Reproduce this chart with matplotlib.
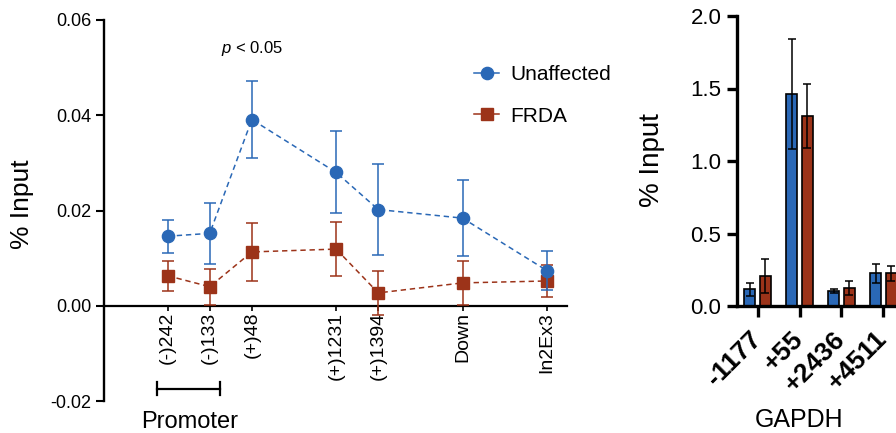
import matplotlib
matplotlib.use("Agg")
import matplotlib.pyplot as plt
from matplotlib.lines import Line2D
import numpy as np

plt.rcParams['font.family'] = ['Liberation Sans', 'DejaVu Sans']
plt.rcParams['axes.unicode_minus'] = False
plt.rcParams['mathtext.fontset'] = 'custom'
plt.rcParams['mathtext.it'] = 'Liberation Sans:italic'
plt.rcParams['mathtext.rm'] = 'Liberation Sans'

# ---------------- data: left panel (FXN region) ----------------
sites = ['(-)242', '(-)133', '(+)48', '(+)1231', '(+)1394', 'Down', 'In2Ex3']
site_pos = [1, 2, 3, 5, 6, 8, 10]
unaff = [0.0146, 0.0152, 0.0391, 0.0280, 0.0202, 0.0184, 0.0074]
unaff_err = [0.0035, 0.0064, 0.0080, 0.0086, 0.0096, 0.0079, 0.0040]
frda = [0.0063, 0.0040, 0.0113, 0.0119, 0.0027, 0.0048, 0.0052]
frda_err = [0.0032, 0.0038, 0.0060, 0.0057, 0.0047, 0.0047, 0.0033]
left_yticks = [-0.02, 0.00, 0.02, 0.04, 0.06]
left_yticklabels = ['-0.02', '0.00', '0.02', '0.04', '0.06']

# ---------------- data: right panel (GAPDH) ----------------
gapdh_sites = ['-1177', '+55', '+2436', '+4511']
gapdh_unaff = [0.115, 1.46, 0.103, 0.225]
gapdh_unaff_err = [0.046, 0.378, 0.016, 0.065]
gapdh_frda = [0.207, 1.312, 0.122, 0.225]
gapdh_frda_err = [0.120, 0.219, 0.048, 0.053]
right_yticks = [0.0, 0.5, 1.0, 1.5, 2.0]

BLUE = '#2a68b6'
RED = '#9c3319'

W, H = 896, 433
fig = plt.figure(figsize=(W / 100, H / 100), dpi=100)

# ---------------- left panel ----------------
ax1 = fig.add_axes([104 / W, 1 - 401 / H, 463 / W, 381 / H])
ax1.set_xlim(-0.51, 10.48)
ax1.set_ylim(-0.02, 0.06)
for s in ['top', 'right']:
    ax1.spines[s].set_visible(False)
ax1.spines['left'].set_linewidth(1.7)
ax1.spines['bottom'].set_position(('data', 0))
ax1.spines['bottom'].set_linewidth(1.6)

dash = (0, (3.5, 2.5))
ax1.errorbar(site_pos, unaff, yerr=unaff_err, color=BLUE, marker='o', ms=8.8,
             linestyle=dash, lw=1.1, elinewidth=1.1, capsize=4.5, capthick=1.1, zorder=4)
ax1.errorbar(site_pos, frda, yerr=frda_err, color=RED, marker='s', ms=8.8,
             linestyle=dash, lw=1.1, elinewidth=1.1, capsize=4.5, capthick=1.1, zorder=3)

ax1.set_yticks(left_yticks)
ax1.set_yticklabels(left_yticklabels, fontsize=13)
ax1.tick_params(axis='y', direction='out', length=6, width=1.5, pad=3)
ax1.set_xticks(site_pos)
ax1.set_xticklabels(sites, rotation=90, fontsize=14)
ax1.tick_params(axis='x', direction='out', length=3.5, width=1.2, pad=1)

fig.text(22 / W, 1 - 204 / H, '% Input', rotation=90, ha='center', va='center', fontsize=19)

ax1.text(3, 0.054, r'$p$ < 0.05', ha='center', va='center', fontsize=12)

# Promoter bracket
ax1.plot([0.75, 2.25], [-0.0174, -0.0174], color='black', lw=1.6, clip_on=False)
for xb in (0.75, 2.25):
    ax1.plot([xb, xb], [-0.0161, -0.0187], color='black', lw=1.6, clip_on=False)
fig.text(190 / W, 1 - 422 / H, 'Promoter', ha='center', va='center', fontsize=17)

handles = [Line2D([], [], color=BLUE, marker='o', ms=8.8, lw=1.1),
           Line2D([], [], color=RED, marker='s', ms=8.8, lw=1.1)]
fig.legend(handles, ['Unaffected', 'FRDA'], loc='upper left',
           bbox_to_anchor=(474 / W, 1 - 65 / H), frameon=False, fontsize=15,
           handlelength=1.2, handletextpad=0.55, labelspacing=1.08,
           borderpad=0, borderaxespad=0)

# ---------------- right panel ----------------
unit = 41.9
ax2 = fig.add_axes([736.7 / W, 1 - 306 / H, 4 * unit / W, 290 / H])
ax2.set_xlim(-0.5, 3.5)
ax2.set_ylim(0, 2.0)
for s in ['top', 'right']:
    ax2.spines[s].set_visible(False)
for s in ['left', 'bottom']:
    ax2.spines[s].set_linewidth(2.4)
x = np.arange(len(gapdh_sites))
off, bw = 0.187, 0.26
ax2.bar(x - off, gapdh_unaff, width=bw, color=BLUE, edgecolor='black', linewidth=1.2,
        yerr=gapdh_unaff_err, error_kw=dict(ecolor='black', elinewidth=1.1, capsize=3, capthick=1.1))
ax2.bar(x + off, gapdh_frda, width=bw, color=RED, edgecolor='black', linewidth=1.2,
        yerr=gapdh_frda_err, error_kw=dict(ecolor='black', elinewidth=1.1, capsize=3, capthick=1.1))
ax2.set_yticks(right_yticks)
ax2.set_yticklabels([f'{v:.1f}' for v in right_yticks], fontsize=16)
ax2.tick_params(axis='y', direction='out', length=7, width=2.4, pad=4)
ax2.set_xticks(x)
ax2.set_xticklabels(gapdh_sites, rotation=45, ha='right', va='center',
                    rotation_mode='anchor', fontsize=19, fontweight='bold')
ax2.tick_params(axis='x', direction='out', length=8, width=2.4, pad=13)

fig.text(652 / W, 1 - 160 / H, '% Input', rotation=90, ha='center', va='center', fontsize=20)
fig.text(799 / W, 1 - 420 / H, 'GAPDH', ha='center', va='center', fontsize=18)

fig.savefig('out.png', dpi=100)
